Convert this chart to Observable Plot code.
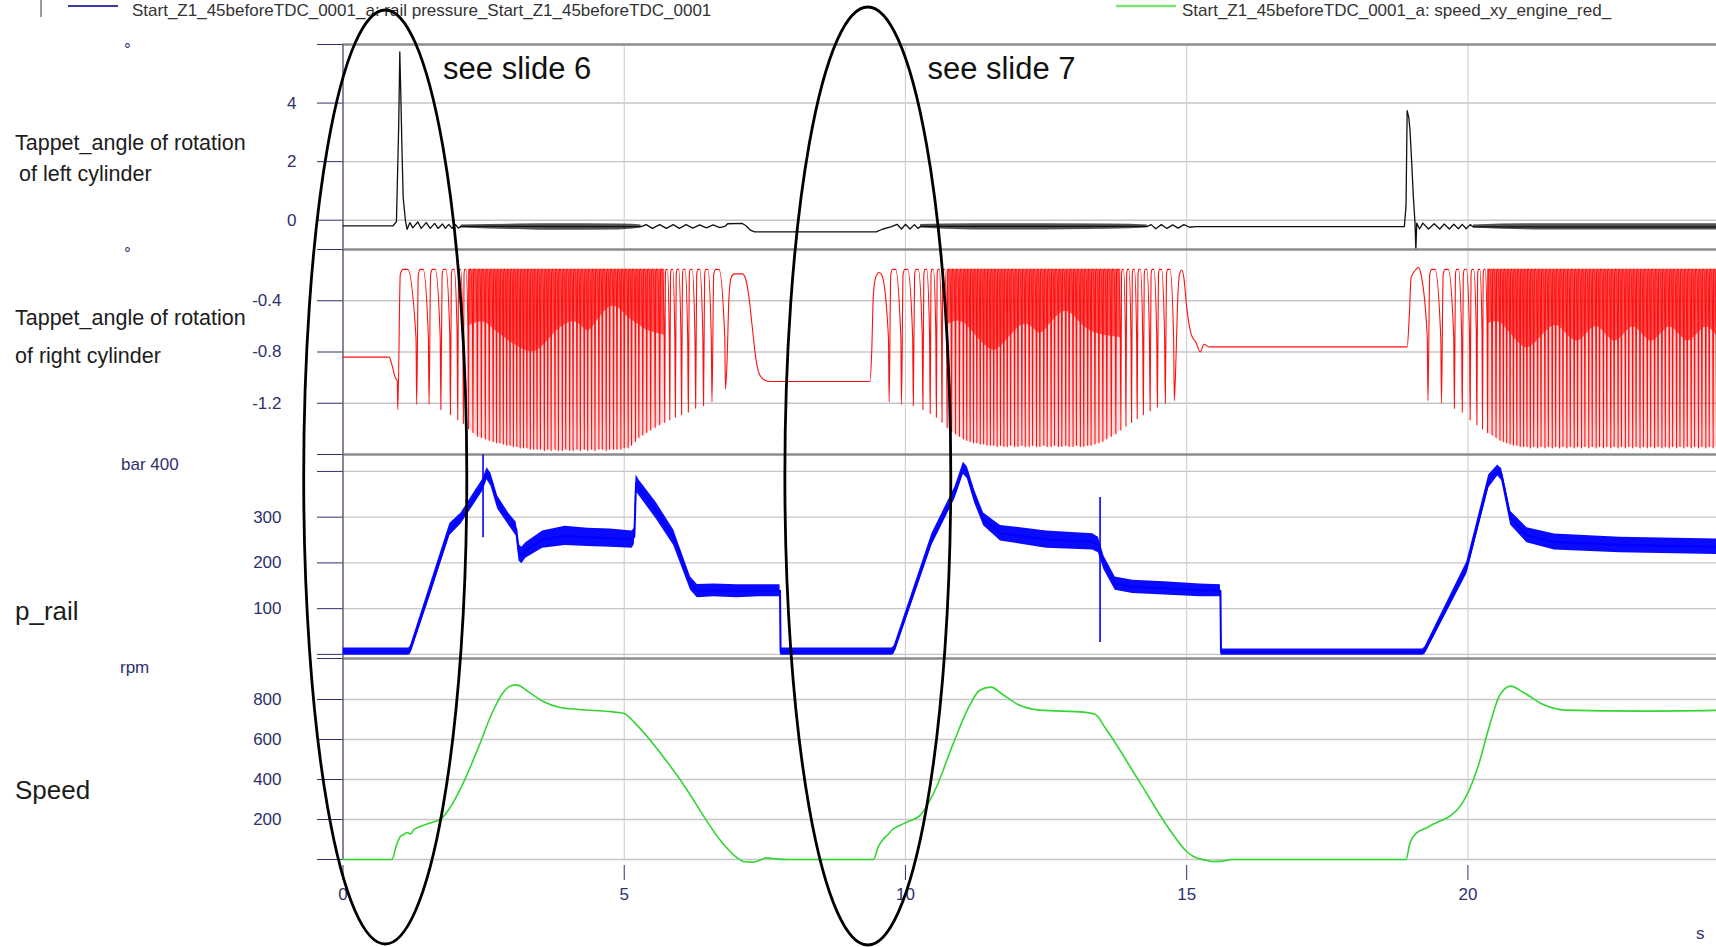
<!DOCTYPE html>
<html>
<head>
<meta charset="utf-8">
<script src="https://cdn.jsdelivr.net/npm/d3@7"></script>
<script src="https://cdn.jsdelivr.net/npm/@observablehq/plot@0.6"></script>
<style>
  html, body { margin: 0; padding: 0; background: #fff; overflow: hidden; }
  #chart { position: relative; width: 1716px; height: 947px; overflow: hidden; }
</style>
</head>
<body>
<div id="chart"></div>
<script>
// ---------------------------------------------------------------------------
// Data: engine start test Start_Z1_45beforeTDC_0001 (time in s)
// ---------------------------------------------------------------------------
const timeTicks = [0, 5, 10, 15, 20];
const timeGrid = [5, 10, 15, 20];

const leftTicks = [0, 2, 4];             // °
const rightTicks = [-0.4, -0.8, -1.2];   // °
const railTicks = [100, 200, 300];       // bar
const speedTicks = [200, 400, 600, 800]; // rpm

// Tappet angle of rotation, left cylinder: [t, value]
const leftTappet = [
  [0, -0.19], [0.89, -0.19], [0.95, -0.05], [0.99, 3.2], [1.01, 5.75], [1.03, 4.1], [1.05, 2.3],
  [1.07, 0.78], [1.11, -0.02], [1.14, -0.31], [1.19, -0.08], [1.24, -0.26], [1.33, -0.06],
  [1.39, -0.28], [1.48, -0.08], [1.55, -0.28], [1.63, -0.11], [1.69, -0.28], [1.77, -0.13],
  [1.82, -0.28], [1.88, -0.14], [1.94, -0.28], [2.0, -0.15], [2.05, -0.27], [2.1, -0.21],
  [5.3, -0.22], [5.39, -0.15], [5.5, -0.28], [5.63, -0.15], [5.75, -0.28], [5.87, -0.15],
  [5.98, -0.28], [6.1, -0.15], [6.22, -0.27], [6.34, -0.16], [6.46, -0.26], [6.58, -0.16],
  [6.7, -0.25], [6.8, -0.2], [6.84, -0.12], [7.1, -0.11], [7.17, -0.2], [7.25, -0.35], [7.32, -0.4],
  [9.48, -0.4], [9.6, -0.3], [9.74, -0.23], [9.85, -0.14], [9.93, -0.3], [10.0, -0.14],
  [10.08, -0.3], [10.16, -0.15], [10.22, -0.28], [10.27, -0.21],
  [14.3, -0.21], [14.37, -0.15], [14.45, -0.29], [14.55, -0.15], [14.65, -0.28], [14.75, -0.16],
  [14.85, -0.27], [14.95, -0.15], [15.05, -0.24], [15.15, -0.22],
  [18.87, -0.22], [18.9, 0.5], [18.92, 3.74], [18.95, 3.5], [18.97, 3.09], [19.0, 2.0],
  [19.03, 0.8], [19.06, -0.1], [19.075, -1.05], [19.09, -0.1], [19.14, -0.3], [19.2, -0.1],
  [19.3, -0.3], [19.4, -0.12], [19.5, -0.3], [19.58, -0.13], [19.67, -0.3], [19.75, -0.14],
  [19.83, -0.29], [19.9, -0.14], [19.97, -0.29], [20.04, -0.15], [20.1, -0.23], [24.5, -0.23]
];

// Fast ripple of the left tappet while the engine runs: [t, low, high]
const leftRipple1 = [[2.1, -0.27, -0.16], [2.6, -0.3, -0.15], [3.1, -0.32, -0.13], [3.5, -0.34, -0.12],
  [4.3, -0.34, -0.12], [4.9, -0.33, -0.13], [5.15, -0.3, -0.14], [5.3, -0.27, -0.16]];
const leftRipple2 = [[10.27, -0.27, -0.15], [10.7, -0.31, -0.13], [11.2, -0.33, -0.12],
  [12.5, -0.33, -0.12], [13.6, -0.31, -0.13], [14.0, -0.29, -0.14], [14.3, -0.27, -0.16]];
const leftRipple3 = [[20.1, -0.27, -0.16], [20.6, -0.31, -0.13], [21.2, -0.33, -0.12], [24.5, -0.33, -0.12]];

// Tappet angle of rotation, right cylinder
const rightTop = -0.155;   // crest level of every stroke
// flat stretches and transitions: [t, value]
const rightLead1 = [[0, -0.84], [0.82, -0.84], [0.87, -0.9], [0.93, -1.0]];
// strokes: [t of dip, trough value, value where the dip starts]
const rightDips1 = [
  [0.975, -1.25, -1.02], [1.31, -1.21, -0.69], [1.53, -1.21, -0.69], [1.74, -1.25, -0.68],
  [1.91, -1.29, -0.66], [2.04, -1.33, -0.64], [2.14, -1.36, -0.62], [2.23, -1.40, -0.60],
  [2.31, -1.43, -0.58], [2.39, -1.46, -0.57], [2.46, -1.47, -0.56], [2.53, -1.48, -0.57],
  [2.60, -1.49, -0.59], [2.67, -1.50, -0.62], [2.73, -1.51, -0.64], [2.79, -1.51, -0.66],
  [2.85, -1.52, -0.68], [2.91, -1.53, -0.70], [2.97, -1.53, -0.72], [3.03, -1.54, -0.74],
  [3.09, -1.54, -0.75], [3.15, -1.55, -0.77], [3.21, -1.55, -0.78], [3.27, -1.55, -0.79],
  [3.33, -1.56, -0.80], [3.39, -1.56, -0.80], [3.45, -1.56, -0.79], [3.51, -1.56, -0.77],
  [3.58, -1.57, -0.74], [3.64, -1.56, -0.71], [3.70, -1.57, -0.68], [3.77, -1.56, -0.65],
  [3.83, -1.57, -0.62], [3.90, -1.57, -0.60], [3.96, -1.56, -0.58], [4.03, -1.57, -0.57],
  [4.09, -1.57, -0.56], [4.16, -1.56, -0.57], [4.22, -1.57, -0.59], [4.29, -1.56, -0.62],
  [4.35, -1.57, -0.64], [4.42, -1.56, -0.62], [4.48, -1.57, -0.58], [4.55, -1.56, -0.54],
  [4.61, -1.56, -0.50], [4.68, -1.57, -0.47], [4.74, -1.56, -0.45], [4.81, -1.56, -0.44],
  [4.87, -1.56, -0.45], [4.94, -1.56, -0.47], [5.00, -1.55, -0.50], [5.07, -1.55, -0.53],
  [5.13, -1.53, -0.55], [5.20, -1.50, -0.57], [5.26, -1.47, -0.59], [5.33, -1.45, -0.61],
  [5.40, -1.43, -0.63], [5.47, -1.41, -0.64], [5.55, -1.39, -0.65], [5.63, -1.37, -0.66],
  [5.72, -1.35, -0.67], [5.81, -1.33, -0.68], [5.91, -1.31, -0.69], [6.02, -1.29, -0.69],
  [6.14, -1.27, -0.69], [6.27, -1.24, -0.69], [6.41, -1.22, -0.69], [6.56, -1.19, -0.69],
  [6.80, -1.09, -0.69]
];
const rightTail1 = [[6.83, -0.85], [6.86, -0.4], [6.9, -0.22], [6.96, -0.19], [7.1, -0.19],
  [7.16, -0.23], [7.22, -0.38], [7.28, -0.62], [7.34, -0.85], [7.41, -0.98], [7.5, -1.02],
  [7.6, -1.03], [9.37, -1.03], [9.4, -0.8], [9.43, -0.35], [9.47, -0.22], [9.53, -0.18], [9.58, -0.2]];
const rightDips2 = [
  [9.71, -1.19, -0.69], [9.93, -1.21, -0.69], [10.14, -1.22, -0.68], [10.31, -1.25, -0.67],
  [10.44, -1.28, -0.65], [10.55, -1.31, -0.63], [10.65, -1.35, -0.61], [10.74, -1.39, -0.59],
  [10.82, -1.42, -0.57], [10.89, -1.44, -0.56], [10.96, -1.46, -0.56], [11.03, -1.48, -0.57],
  [11.09, -1.49, -0.59], [11.15, -1.50, -0.62], [11.21, -1.51, -0.65], [11.27, -1.51, -0.68],
  [11.33, -1.52, -0.71], [11.39, -1.52, -0.74], [11.45, -1.53, -0.76], [11.51, -1.53, -0.78],
  [11.57, -1.53, -0.79], [11.63, -1.54, -0.78], [11.69, -1.53, -0.76], [11.75, -1.54, -0.73],
  [11.81, -1.54, -0.70], [11.87, -1.53, -0.67], [11.94, -1.54, -0.64], [12.00, -1.54, -0.61],
  [12.07, -1.53, -0.59], [12.13, -1.54, -0.58], [12.20, -1.54, -0.59], [12.26, -1.53, -0.61],
  [12.33, -1.54, -0.64], [12.39, -1.54, -0.66], [12.46, -1.53, -0.64], [12.52, -1.54, -0.61],
  [12.59, -1.54, -0.57], [12.65, -1.53, -0.54], [12.72, -1.54, -0.51], [12.78, -1.54, -0.49],
  [12.85, -1.53, -0.48], [12.91, -1.54, -0.49], [12.98, -1.54, -0.51], [13.04, -1.53, -0.54],
  [13.11, -1.54, -0.57], [13.17, -1.54, -0.60], [13.24, -1.53, -0.62], [13.30, -1.53, -0.64],
  [13.37, -1.52, -0.65], [13.44, -1.51, -0.66], [13.51, -1.50, -0.67], [13.58, -1.48, -0.67],
  [13.66, -1.46, -0.68], [13.74, -1.44, -0.68], [13.83, -1.41, -0.69], [13.92, -1.38, -0.69],
  [14.02, -1.35, -0.69], [14.12, -1.32, -0.69], [14.23, -1.29, -0.69], [14.35, -1.26, -0.69],
  [14.48, -1.23, -0.69], [14.62, -1.20, -0.69], [14.78, -1.18, -0.69]
];
const rightTail2 = [[14.81, -0.85], [14.84, -0.4], [14.87, -0.2], [14.91, -0.16], [14.95, -0.22],
  [15.0, -0.45], [15.08, -0.66], [15.17, -0.73], [15.24, -0.8], [15.31, -0.74], [15.4, -0.76],
  [18.92, -0.76], [18.96, -0.5], [18.99, -0.22], [19.05, -0.17], [19.12, -0.14], [19.17, -0.2]];
const rightDips3 = [
  [19.29, -1.18, -0.69], [19.53, -1.20, -0.69], [19.76, -1.24, -0.68], [19.90, -1.27, -0.66],
  [20.04, -1.33, -0.64], [20.16, -1.37, -0.62], [20.26, -1.40, -0.60], [20.35, -1.43, -0.58],
  [20.43, -1.45, -0.57], [20.50, -1.47, -0.56], [20.57, -1.49, -0.57], [20.63, -1.50, -0.59],
  [20.69, -1.51, -0.62], [20.75, -1.52, -0.65], [20.81, -1.53, -0.68], [20.87, -1.53, -0.71],
  [20.93, -1.54, -0.74], [20.99, -1.54, -0.76], [21.05, -1.54, -0.77], [21.11, -1.55, -0.76],
  [21.17, -1.54, -0.74], [21.24, -1.55, -0.71], [21.30, -1.54, -0.68], [21.37, -1.55, -0.65],
  [21.43, -1.54, -0.62], [21.50, -1.55, -0.60], [21.56, -1.54, -0.59], [21.63, -1.55, -0.60],
  [21.69, -1.54, -0.63], [21.76, -1.55, -0.66], [21.82, -1.54, -0.69], [21.89, -1.55, -0.71],
  [21.95, -1.54, -0.72], [22.02, -1.55, -0.70], [22.08, -1.54, -0.67], [22.15, -1.55, -0.64],
  [22.21, -1.54, -0.61], [22.28, -1.55, -0.60], [22.34, -1.54, -0.61], [22.41, -1.55, -0.64],
  [22.47, -1.54, -0.67], [22.54, -1.55, -0.70], [22.60, -1.54, -0.72], [22.67, -1.55, -0.71],
  [22.73, -1.54, -0.68], [22.80, -1.55, -0.65], [22.86, -1.54, -0.62], [22.93, -1.55, -0.60],
  [22.99, -1.54, -0.61], [23.06, -1.55, -0.64], [23.12, -1.54, -0.67], [23.19, -1.55, -0.70],
  [23.25, -1.54, -0.72], [23.32, -1.55, -0.71], [23.38, -1.54, -0.68], [23.45, -1.55, -0.65],
  [23.51, -1.54, -0.62], [23.58, -1.55, -0.60], [23.64, -1.54, -0.61], [23.71, -1.55, -0.64],
  [23.77, -1.54, -0.67], [23.84, -1.55, -0.70], [23.90, -1.54, -0.72], [23.97, -1.55, -0.71],
  [24.03, -1.54, -0.68], [24.10, -1.55, -0.65], [24.16, -1.54, -0.62], [24.23, -1.55, -0.60],
  [24.29, -1.54, -0.61], [24.36, -1.55, -0.64], [24.42, -1.54, -0.67], [24.49, -1.55, -0.70]
];

// Rail pressure (bar): [t, low, high] of the noisy trace
const railPressure = [
  [0, -2, 14], [1.17, -2, 14], [1.2, 1, 19], [1.55, 128, 152], [1.9, 260, 286], [2.1, 285, 309],
  [2.31, 324, 350], [2.49, 358, 384], [2.56, 382, 408], [2.63, 368, 396], [2.75, 318, 346],
  [2.95, 282, 308], [3.08, 259, 289], [3.13, 204, 240], [3.18, 198, 234], [3.25, 210, 244],
  [3.55, 232, 270], [3.95, 238, 280], [4.35, 236, 276], [4.75, 234, 274], [5.14, 232, 270],
  [5.18, 240, 276], [5.21, 356, 392], [5.27, 346, 380], [5.57, 296, 332], [5.88, 238, 272],
  [6.18, 140, 169], [6.3, 124, 153], [6.6, 126, 154], [7.0, 124, 152], [7.4, 126, 152],
  [7.77, 126, 152], [7.78, -2, 14], [9.76, -2, 14], [9.8, 1, 19], [10.47, 238, 264],
  [10.88, 340, 366], [11.03, 394, 420], [11.1, 384, 410], [11.23, 331, 359], [11.39, 281, 309],
  [11.69, 248, 282], [12.51, 232, 270], [13.33, 228, 264], [13.43, 222, 256], [13.53, 185, 215],
  [13.73, 140, 169], [14.04, 133, 162], [14.6, 130, 159], [15.24, 126, 154], [15.6, 126, 152],
  [15.61, -2, 12], [19.2, -2, 12], [19.24, 1, 17], [19.98, 176, 202], [20.37, 364, 392],
  [20.53, 390, 414], [20.6, 380, 406], [20.76, 283, 313], [21.05, 244, 277], [21.54, 228, 263],
  [22.7, 222, 256], [24.5, 218, 252]
];
// Single-sample pressure spikes: [t, from, to]
const railSpikes = [[2.49, 255, 436], [13.46, 26, 343]];

// Engine speed (rpm): [t, value]
const engineSpeed = [
  [0, 0], [0.87, 0], [0.95, 72], [1.03, 118], [1.08, 125], [1.14, 135], [1.2, 128], [1.26, 150],
  [1.35, 162], [1.52, 180], [1.75, 205], [1.9, 258], [2.16, 396], [2.41, 562], [2.67, 745],
  [2.86, 840], [3.0, 870], [3.08, 873], [3.3, 838], [3.56, 790], [3.86, 760], [4.2, 750],
  [4.8, 738], [5.0, 730], [5.19, 682], [5.97, 409], [6.75, 82], [7.0, 10], [7.14, -11],
  [7.27, -13], [7.4, -5], [7.53, 8], [7.7, 3], [7.92, 0], [9.43, 0], [9.52, 66], [9.6, 100],
  [9.69, 125], [9.77, 150], [9.9, 170], [10.06, 191], [10.25, 218], [10.54, 355], [10.84, 573],
  [11.13, 764], [11.32, 846], [11.52, 862], [11.71, 829], [12.0, 775], [12.39, 747], [13.17, 737],
  [13.37, 726], [13.56, 655], [14.14, 398], [14.73, 136], [15.0, 40], [15.12, 15], [15.31, -2],
  [15.46, -10], [15.65, -8], [15.8, 0], [18.9, 0], [18.97, 82], [19.1, 136], [19.2, 150],
  [19.49, 191], [19.69, 218], [19.88, 273], [20.18, 464], [20.37, 655], [20.56, 818],
  [20.76, 867], [20.99, 835], [21.34, 775], [21.73, 747], [23.09, 742], [24.5, 746]
];

const slideNotes = [{t: 1.78, label: "see slide 6"}, {t: 10.39, label: "see slide 7"}];

// ---------------------------------------------------------------------------
// Layout and styles
// ---------------------------------------------------------------------------
const WIDTH = 1716, HEIGHT = 947;
const FRAME_LEFT = 342.5;
const T_END = 24.42;
const PAD = 6;
const NAVY = "#2f2f6d";
const FONT = '"Liberation Sans", Arial, Helvetica, sans-serif';
const GRID = "#c6c6c6";
const BORDER = "#8c8c8c";
const RED = "#ff1010";
const panelRows = [
  {top: 44, bottom: 249},
  {top: 249, bottom: 454},
  {top: 454, bottom: 658},
  {top: 658, bottom: 859}
];

const chart = document.getElementById("chart");

// Each stroke of the right tappet: a thin dip to the trough, a steep rise, a rounded crest,
// then the fall back to the level where the next dip starts.
function tappetTrace(pieces, top) {
  const pts = [];
  for (const piece of pieces) {
    if (piece.kind === "path") { pts.push(...piece.points); continue; }
    const dips = piece.points;
    dips.forEach(([t, trough, shoulder], i) => {
      const prev = dips[i - 1], next = dips[i + 1];
      const gapNext = next ? next[0] - t : 0;
      const gapPrev = prev ? t - prev[0] : gapNext;
      pts.push([t - Math.min(0.012, gapPrev * 0.1), shoulder]);
      pts.push([t, trough]);
      if (next) {
        pts.push([t + gapNext * 0.13, top - 0.04]);
        pts.push([t + gapNext * 0.28, top]);
        pts.push([t + gapNext * 0.52, top]);
      }
    });
  }
  return pts;
}

// dense stretch of strokes: where neighbours are closer than 0.09 s
function denseStrokes(dips) {
  return dips.filter((d, i) => {
    const prev = dips[i - 1], next = dips[i + 1];
    return prev && next && d[0] - prev[0] < 0.09 && next[0] - d[0] < 0.09;
  });
}

const rightTappet = tappetTrace([
  {kind: "path", points: rightLead1},
  {kind: "dips", points: rightDips1},
  {kind: "path", points: rightTail1},
  {kind: "dips", points: rightDips2},
  {kind: "path", points: rightTail2},
  {kind: "dips", points: rightDips3}
], rightTop);

function fmt(d) { return String(d); }

function panel(row, {domain, ticks, labelled, grid, labelPadding, marks, xAxis = false}) {
  const {top, bottom} = panelRows[row];
  const mb = xAxis ? 88 : PAD;
  const axisTicks = [domain[1], ...ticks];
  const plot = Plot.plot({
    width: WIDTH,
    height: bottom - top + PAD + mb,
    marginTop: PAD,
    marginBottom: mb,
    marginLeft: FRAME_LEFT,
    marginRight: 0,
    style: {background: "transparent", overflow: "visible", fontFamily: FONT, fontSize: "17px", color: NAVY},
    x: {domain: [0, T_END], axis: null},
    y: {domain, axis: null},
    marks: [
      Plot.gridY({ticks: grid, stroke: GRID, strokeOpacity: 1, strokeWidth: 1.4}),
      Plot.gridX({ticks: timeGrid, stroke: "#d0d0d0", strokeOpacity: 1, strokeWidth: 1.1}),
      Plot.ruleY([domain[1]], {stroke: BORDER, strokeWidth: 2.6}),
      Plot.ruleX([0], {stroke: "#5d5d7e", strokeWidth: 1.5}),
      Plot.axisY({
        ticks: axisTicks, tickSize: 25.5, tickPadding: labelPadding, color: NAVY, fontSize: 17,
        tickFormat: d => labelled.includes(d) ? fmt(d) : "", label: null
      }),
      ...(xAxis ? [Plot.axisX({
        ticks: timeTicks, tickSize: 15, tickPadding: 7, dy: 6, color: NAVY, fontSize: 17,
        tickFormat: fmt, label: null
      })] : []),
      ...marks
    ]
  });
  plot.style.position = "absolute";
  plot.style.left = "0px";
  plot.style.top = (top - PAD) + "px";
  chart.append(plot);
  return plot;
}

const rippleArea = band => Plot.areaY(band, {
  x: d => d[0], y1: d => d[1], y2: d => d[2], fill: "#111", fillOpacity: 0.72, clip: true
});
// crowded strokes merge into a solid band above the dips and a tinted band below
const strokeCrowd = dips => Plot.areaY(denseStrokes(dips), {
  x: d => d[0], y1: d => d[2], y2: rightTop, fill: RED, fillOpacity: 0.72, curve: "basis", clip: true
});
const strokeTint = dips => Plot.areaY(denseStrokes(dips), {
  x: d => d[0], y1: d => d[1], y2: d => d[2], fill: RED, fillOpacity: 0.16, curve: "basis", clip: true
});

const p1 = panel(0, {
  domain: [-1, 6], ticks: leftTicks.slice().reverse(), labelled: leftTicks, grid: leftTicks,
  labelPadding: 21,
  marks: [
    rippleArea(leftRipple1), rippleArea(leftRipple2), rippleArea(leftRipple3),
    Plot.line(leftTappet, {x: d => d[0], y: d => d[1], stroke: "#111", strokeWidth: 1.3, clip: true}),
    Plot.text(slideNotes, {
      x: "t", frameAnchor: "top", dy: 25, text: "label", textAnchor: "start", lineAnchor: "middle",
      fill: "#111", fontSize: 31
    })
  ]
});

panel(1, {
  domain: [-1.6, 0], ticks: rightTicks, labelled: rightTicks, grid: rightTicks, labelPadding: 36,
  marks: [
    strokeTint(rightDips1), strokeTint(rightDips2), strokeTint(rightDips3),
    strokeCrowd(rightDips1), strokeCrowd(rightDips2), strokeCrowd(rightDips3),
    Plot.line(rightTappet, {x: d => d[0], y: d => d[1], stroke: RED, strokeWidth: 1.1, curve: "monotone-x", clip: true})
  ]
});

panel(2, {
  domain: [-9, 437], ticks: [400, ...railTicks.slice().reverse(), 0], labelled: railTicks,
  grid: [0, ...railTicks, 400], labelPadding: 36,
  marks: [
    Plot.areaY(railPressure, {x: d => d[0], y1: d => d[1], y2: d => d[2], fill: "#0a0aff", clip: true}),
    Plot.line(railPressure, {x: d => d[0], y: d => (d[1] + d[2]) / 2, stroke: "#0000ff", strokeWidth: 2, clip: true}),
    Plot.ruleX(railSpikes, {x: d => d[0], y1: d => d[1], y2: d => d[2], stroke: "#0000ff", strokeWidth: 1.6, clip: true})
  ]
});

panel(3, {
  domain: [0, 1005], ticks: [...speedTicks.slice().reverse(), 0], labelled: speedTicks,
  grid: [0, ...speedTicks], labelPadding: 36, xAxis: true,
  marks: [
    Plot.line(engineSpeed, {x: d => d[0], y: d => d[1], stroke: "#33d633", strokeWidth: 1.6, curve: "monotone-x"})
  ]
});

// ---------------------------------------------------------------------------
// Labels, legend and the two call-out ellipses
// ---------------------------------------------------------------------------
const sx = p1.scale("x");
const svg = d3.select(chart).append("svg")
  .attr("width", WIDTH).attr("height", HEIGHT)
  .style("position", "absolute").style("left", "0px").style("top", "0px")
  .style("font-family", FONT).style("overflow", "visible");

// legend
svg.append("line").attr("x1", 41).attr("x2", 41).attr("y1", 0).attr("y2", 17)
  .attr("stroke", "#9c9c9c").attr("stroke-width", 2);
svg.append("line").attr("x1", 68).attr("x2", 118).attr("y1", 6).attr("y2", 6)
  .attr("stroke", "#3b3ba3").attr("stroke-width", 2);
svg.append("text").attr("x", 132).attr("y", 15.5).attr("font-size", 17).attr("fill", "#333")
  .text("Start_Z1_45beforeTDC_0001_a: rail pressure_Start_Z1_45beforeTDC_0001");
svg.append("line").attr("x1", 1116).attr("x2", 1176).attr("y1", 6).attr("y2", 6)
  .attr("stroke", "#7be27b").attr("stroke-width", 2.5);
svg.append("text").attr("x", 1182).attr("y", 15.5).attr("font-size", 17).attr("fill", "#333")
  .text("Start_Z1_45beforeTDC_0001_a: speed_xy_engine_red_");

// row titles and units
const rowLabels = [
  {x: 15, y: 150, size: 21.5, text: "Tappet_angle of rotation"},
  {x: 19, y: 181, size: 21.5, text: "of left cylinder"},
  {x: 15, y: 325, size: 21.5, text: "Tappet_angle of rotation"},
  {x: 15, y: 363, size: 21.5, text: "of right cylinder"},
  {x: 15, y: 620, size: 26, text: "p_rail"},
  {x: 15, y: 799, size: 26, text: "Speed"}
];
for (const l of rowLabels) {
  svg.append("text").attr("x", l.x).attr("y", l.y).attr("font-size", l.size).attr("fill", "#1c1c1c").text(l.text);
}
const unitLabels = [
  {x: 124, y: 55, text: "°"},
  {x: 124, y: 259, text: "°"},
  {x: 121, y: 470, text: "bar 400"},
  {x: 120, y: 673, text: "rpm"},
  {x: 1696, y: 939, text: "s"}
];
for (const u of unitLabels) {
  svg.append("text").attr("x", u.x).attr("y", u.y).attr("font-size", 17).attr("fill", NAVY).text(u.text);
}

// call-out ellipses around the two start attempts
const callouts = [
  {t: 0.76, half: 1.45, top: 10, bottom: 944},
  {t: 9.34, half: 1.475, top: 7, bottom: 945}
];
for (const c of callouts) {
  const cx = sx.apply(c.t);
  svg.append("ellipse")
    .attr("cx", cx).attr("cy", (c.top + c.bottom) / 2)
    .attr("rx", sx.apply(c.t + c.half) - cx).attr("ry", (c.bottom - c.top) / 2)
    .attr("fill", "none").attr("stroke", "#000").attr("stroke-width", 2.8);
}
</script>
</body>
</html>
